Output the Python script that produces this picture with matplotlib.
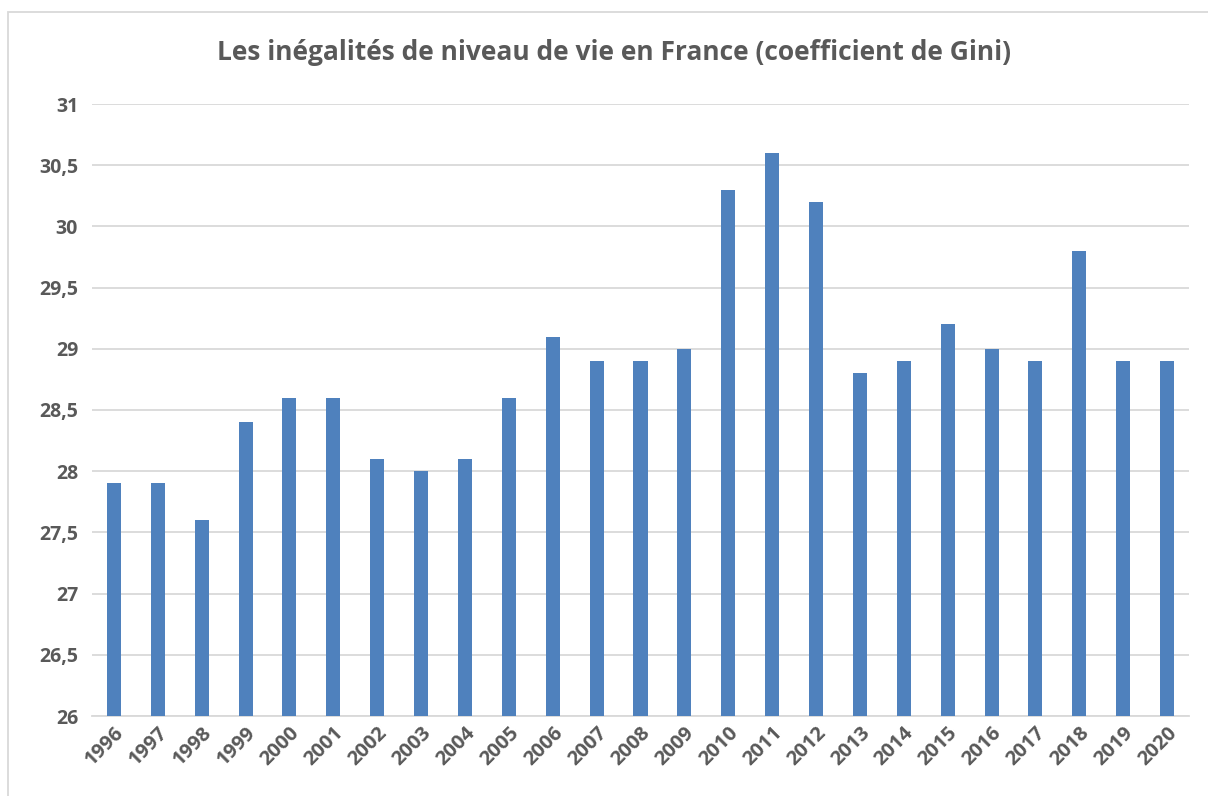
import matplotlib
matplotlib.use('Agg')
import matplotlib.pyplot as plt
from matplotlib.patches import Rectangle

# données
annees = [str(a) for a in range(1996, 2021)]
gini = [27.9, 27.9, 27.6, 28.4, 28.6, 28.6, 28.1, 28.0, 28.1, 28.6,
        29.1, 28.9, 28.9, 29.0, 30.3, 30.6, 30.2, 28.8, 28.9, 29.2,
        29.0, 28.9, 29.8, 28.9, 28.9]
yticks = [26, 26.5, 27, 27.5, 28, 28.5, 29, 29.5, 30, 30.5, 31]

gris = '#595959'
plt.rcParams['font.family'] = ['Open Sans', 'DejaVu Sans']

fig = plt.figure(figsize=(12.08, 7.96), dpi=100)
ax = fig.add_axes([92 / 1208, 1 - 716 / 796, (1189 - 92) / 1208, (716 - 104) / 796])

# cadre du graphique
fig.patches.append(Rectangle((8 / 1208, -0.01), 1.02, 1 - 12 / 796 + 0.01,
                             transform=fig.transFigure, fill=False,
                             edgecolor='#d9d9d9', linewidth=1.3))

x = range(len(annees))
ax.bar(x, gini, width=0.32, color='#4f81bd', zorder=3)
ax.set_xlim(-0.5, len(annees) - 0.5)
ax.set_ylim(26, 31)
ax.set_yticks(yticks)
ax.set_yticklabels([f'{v:g}'.replace('.', ',') for v in yticks],
                   fontsize=14, fontweight='bold', color=gris)
ax.set_xticks(list(x))
ax.set_xticklabels(annees, rotation=45, ha='right', rotation_mode='anchor',
                   fontsize=14.5, fontweight='bold', color=gris)
ax.tick_params(axis='both', length=0, pad=10)
ax.tick_params(axis='x', pad=5)
ax.grid(axis='y', color='#d9d9d9', linewidth=1.3, zorder=0)
for s in ['top', 'right', 'left']:
    ax.spines[s].set_visible(False)
ax.spines['bottom'].set_color('#d9d9d9')
ax.spines['bottom'].set_linewidth(1.3)

fig.text(614 / 1208, 1 - 52 / 796, 'Les inégalités de niveau de vie en France (coefficient de Gini)',
         ha='center', va='center', fontsize=19, fontweight='bold', color=gris)

fig.savefig('out.png', dpi=100)
